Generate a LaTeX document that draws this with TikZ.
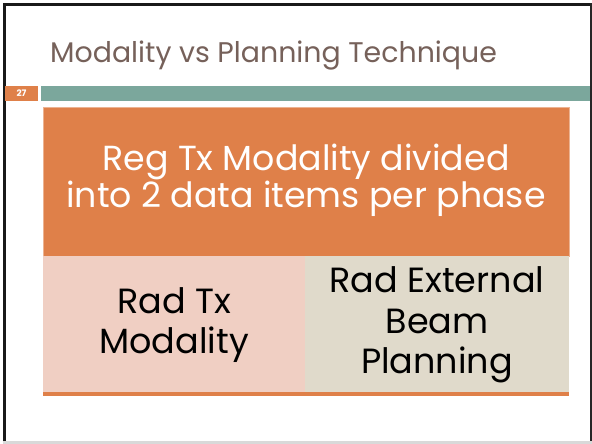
\documentclass[tikz,border=0pt]{standalone}
\usepackage{fontspec}
\setmainfont{Poppins}
\definecolor{orng}{HTML}{DF8049}
\definecolor{teal2}{HTML}{7BA79C}
\definecolor{pinkc}{HTML}{F0CFC3}
\definecolor{beigec}{HTML}{E0DACB}
\definecolor{titlec}{HTML}{76615A}
\begin{document}
\begin{tikzpicture}[x=1pt,y=-1pt,
  box/.style={anchor=north west,inner sep=0pt,outer sep=0pt,draw=none},
  txt/.style={align=center,inner sep=0pt,font=\fontsize{35}{40.5}\selectfont}]
\useasboundingbox (0,0) rectangle (592,444);
\fill[white] (0,0) rectangle (592,444);
% frame
\fill[black!90] (3,3) rectangle (592,6);
\fill[black!90] (3,3) rectangle (6,444);
\fill[black!85] (590,3) rectangle (592,444);
\fill[black!15] (3,441) rectangle (592,444);
% title
\node[anchor=base west,inner sep=0pt,text=titlec,font=\fontsize{28.4}{29}\selectfont] (title) at (50,63) {Modality vs Planning Technique};
% slide number and bar
\node[box,fill=orng,minimum width=33pt,minimum height=15pt] (num) at (5,86) {};
\node[text=white,font=\bfseries\fontsize{9}{9}\selectfont,inner sep=0pt] (numt) at (num.center) {27};
\node[box,fill=teal2,minimum width=549pt,minimum height=15pt] (bar) at (41,86) {};
% header
\node[box,fill=orng,draw=orng!60!white,line width=0.6pt,minimum width=526pt,minimum height=149pt] (head) at (43,107) {};
\node[txt,text=white,font=\fontsize{34.8}{35}\selectfont] (headt) at ([yshift=1pt]head.center) {Reg Tx Modality divided\\into 2 data items per phase};
% cells
\fill[orng] (43,256) rectangle (569,396);
\node[box,fill=pinkc,minimum width=262pt,minimum height=136pt] (left) at (43,256) {};
\node[box,fill=beigec,minimum width=264pt,minimum height=136pt] (right) at (305,256) {};
\node[txt] (leftt) at ([yshift=-1pt]left.center) {Rad Tx\\Modality};
\node[txt] (rightt) at ([yshift=-1pt]right.center) {Rad External\\Beam\\Planning};
\end{tikzpicture}
\end{document}
